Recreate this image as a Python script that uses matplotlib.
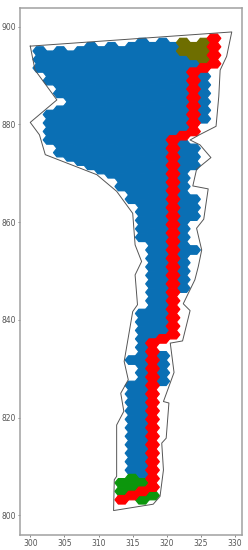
import matplotlib
matplotlib.use("Agg")
import matplotlib.pyplot as plt
from matplotlib.patches import RegularPolygon
import math

# hex grid: column index -> row runs (top, bottom)
x_first = 301.4
y_first = 895.0
col_step = 1.5
row_step = 0.866

blue_runs = {
    0: [(0, -4)],
    1: [(-1, -7), (-15, -21)],
    2: [(0, -10), (-14, -24)],
    3: [(-1, -25)],
    4: [(0, -26)],
    5: [(1, -27)],
    6: [(0, -28)],
    7: [(1, -29)],
    8: [(0, -32)],
    9: [(1, -35), (-73, -73), (-79, -99)],
    10: [(2, -44), (-62, -100)],
    11: [(1, -67)],
    12: [(2, -66), (-72, -78)],
    13: [(1, -19)],
    14: [(-2, -18), (-22, -56)],
    15: [(-3, -3), (-23, -27), (-35, -39), (-47, -47)],
    16: [(-6, -16)],
}
green_cells = [(8, -102), (8, -104), (9, -101), (9, -103), (10, -102), (10, -106), (11, -105)]
olive_cells = [(14, 2), (14, 0), (15, 1), (15, -1), (16, 2), (16, 0), (16, -2)]
red_runs = {
    8: [(-106, -106)],
    9: [(-105, -105)],
    10: [(-104, -104)],
    11: [(-69, -103)],
    12: [(-68, -68)],
    13: [(-21, -67)],
    14: [(-20, -20)],
    15: [(-5, -19)],
    16: [(-4, -4)],
    17: [(3, -3)],
}

outline_x = [300.0, 329.5, 328.75, 327.8, 327.6, 327.2, 324.75, 323.4, 324.85, 326.45, 324.35,
             323.8, 326.05, 325.4, 324.35, 325.1, 324.6, 324.1, 322.4, 323.4, 322.3, 320.5,
             321.05, 319.5, 320.3, 319.9, 319.25, 319.5, 319.0, 318.0, 312.2, 312.3, 312.65,
             312.65, 313.7, 313.25, 314.35, 313.75, 315.0, 315.7, 315.35, 316.3, 315.35, 315.0,
             312.65, 309.75, 302.2, 301.35, 300.0, 303.9, 300.7, 300.0]
outline_y = [896.0, 898.9, 893.9, 891.1, 885.7, 879.6, 877.85, 876.8, 875.8, 873.2, 870.8,
             867.4, 866.8, 860.6, 858.75, 854.3, 850.9, 848.2, 843.3, 841.9, 835.7, 835.25,
             829.25, 823.3, 823.0, 815.8, 814.8, 809.3, 803.9, 802.3, 801.0, 807.3, 808.0,
             818.5, 821.3, 825.0, 827.75, 831.5, 841.7, 843.1, 849.2, 851.95, 855.35, 861.8,
             866.3, 869.7, 873.8, 877.85, 880.4, 885.0, 891.1, 896.0]

x_ticks = [300, 305, 310, 315, 320, 325, 330]
y_ticks = [800, 820, 840, 860, 880, 900]


def runs_to_cells(runs):
    cells = []
    for col, col_runs in runs.items():
        for top, bottom in col_runs:
            for row in range(top, bottom - 1, -2):
                cells.append((col, row))
    return cells


def draw_cells(ax, cells, color):
    for col, row in cells:
        hexagon = RegularPolygon((x_first + col_step * col, y_first + row_step * row), 6, radius=1.0,
                                 orientation=math.pi / 6, facecolor=color, edgecolor=color, linewidth=0.9)
        ax.add_patch(hexagon)


fig = plt.figure(figsize=(2.48, 5.5), dpi=100)
ax = fig.add_axes([20 / 248, 15 / 550, 222 / 248, 527 / 550])

draw_cells(ax, runs_to_cells(blue_runs), "#0a6fb4")
draw_cells(ax, green_cells, "#0c960c")
draw_cells(ax, olive_cells, "#6e6e00")
draw_cells(ax, runs_to_cells(red_runs), "#ff0000")
ax.plot(outline_x, outline_y, color="#555555", linewidth=0.7)

ax.set_xlim(298.5, 331.0)
ax.set_ylim(796.0, 903.8)
ax.set_xticks(x_ticks)
ax.set_yticks(y_ticks)
ax.tick_params(labelsize=5.5, length=1.5, width=0.5, pad=1.5, colors="#555555")
for spine in ax.spines.values():
    spine.set_color("#a0a0a0")
    spine.set_linewidth(1.1)

fig.savefig("out.png", dpi=100)
